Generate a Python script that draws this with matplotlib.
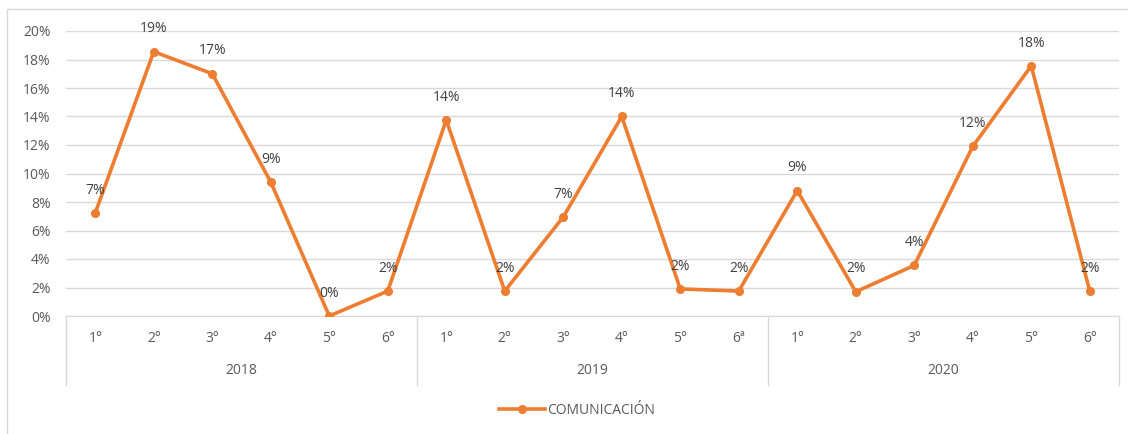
import numpy as np
import matplotlib.pyplot as plt
from matplotlib.patches import Rectangle
from matplotlib.ticker import PercentFormatter

YEARS    = ['2018', '2019', '2020']
PERIODS  = ['1°', '2°', '3°', '4°', '5°', '6°',
            '1°', '2°', '3°', '4°', '5°', '6ª',
            '1°', '2°', '3°', '4°', '5°', '6°']
VALUES   = [7.23, 18.55, 17.0, 9.4, 0.0, 1.75,
            13.75, 1.75, 6.95, 14.0, 1.9, 1.75,
            8.8, 1.7, 3.55, 11.9, 17.55, 1.75]
SERIES   = 'COMUNICACIÓN'

ORANGE = '#ED7D31'
GREY   = '#595959'
GRID   = '#D9D9D9'
FS     = 10

plt.rcParams['font.family'] = ['Open Sans', 'DejaVu Sans']

fig = plt.figure(figsize=(11.28, 4.34), dpi=100)
W, H = 1128, 434
# outer chart frame
fig.patches.append(Rectangle((7 / W, -0.1), 1.2, 1 - 9 / H + 0.1,
                             transform=fig.transFigure, fill=False,
                             edgecolor=GRID, linewidth=1))

ax = fig.add_axes([66 / W, 1 - 316 / H, (1119 - 66) / W, (316 - 31) / H])
x = np.arange(len(VALUES))
vals = np.array(VALUES) / 100
ax.plot(x, vals, color=ORANGE, linewidth=2.6, marker='o',
        markersize=5.5, label=SERIES, zorder=3)

for xi, v in zip(x, VALUES):
    ax.annotate(f'{v:.0f}%', (xi, v / 100), xytext=(0, 11),
                textcoords='offset points', ha='center', va='bottom',
                fontsize=FS, color='#404040')

ax.set_xlim(-0.5, len(VALUES) - 0.5)
ax.set_ylim(0, 0.20)
ax.set_yticks(np.arange(0, 0.201, 0.02))
ax.yaxis.set_major_formatter(PercentFormatter(1.0, decimals=0))
ax.grid(axis='y', color=GRID, linewidth=1)
ax.set_axisbelow(True)
for s in ['top', 'right', 'left']:
    ax.spines[s].set_visible(False)
ax.spines['bottom'].set_color(GRID)
ax.set_xticks(x)
ax.set_xticklabels(PERIODS)
ax.tick_params(axis='both', length=0, colors=GREY, labelsize=FS)
ax.tick_params(axis='x', pad=11)
ax.tick_params(axis='y', pad=11)

# multi-level category axis
depth = (385 - 316) / (316 - 31)
for b in [-0.5, 5.5, 11.5, 17.5]:
    ax.plot([b, b], [0, -depth], transform=ax.get_xaxis_transform(),
            color=GRID, linewidth=1, clip_on=False)
for i, yr in enumerate(YEARS):
    ax.text(i * 6 + 2.5, -(371 - 316) / (316 - 31), yr,
            transform=ax.get_xaxis_transform(), ha='center', va='center',
            fontsize=FS, color=GREY)

fig.legend(loc='center', bbox_to_anchor=(577 / W, 1 - 410 / H),
           frameon=False, fontsize=FS, labelcolor=GREY,
           handlelength=3.3, handletextpad=0.2)

plt.savefig('out.png', dpi=100)
